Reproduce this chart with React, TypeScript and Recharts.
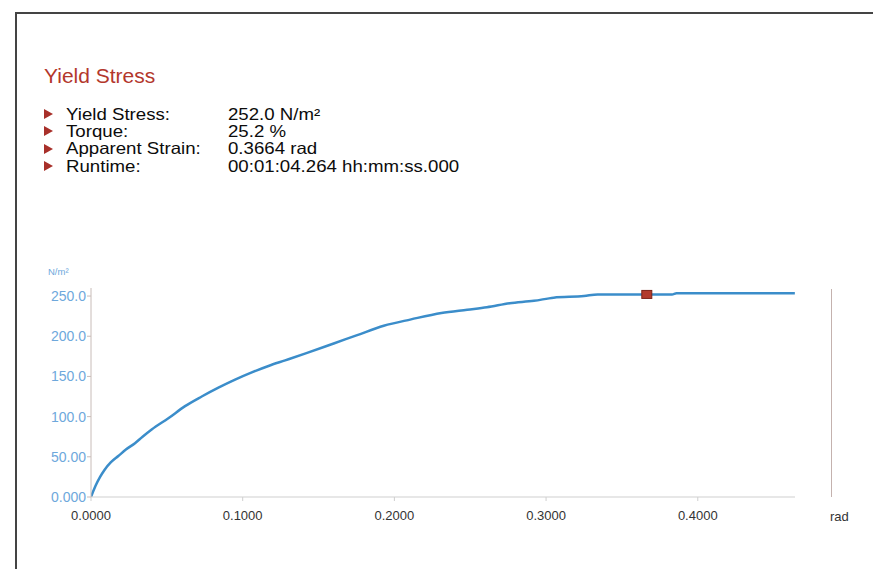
import React from "react"
import { ComposedChart, Line, Scatter, XAxis, YAxis } from "recharts"

// strain (rad) vs stress (N/m²)
const strain = [0, 0.003, 0.006, 0.009, 0.013, 0.018, 0.023, 0.029, 0.034, 0.040, 0.051, 0.062, 0.073, 0.084, 0.095, 0.106, 0.117, 0.128, 0.142, 0.160, 0.175, 0.193, 0.211, 0.231, 0.248, 0.261, 0.276, 0.292, 0.305, 0.325, 0.334, 0.350, 0.366, 0.383, 0.386, 0.420, 0.440, 0.464]
const stress = [0, 14, 25, 34, 43, 51, 59, 67, 75, 84, 98, 113, 125, 136, 146, 155, 163, 170, 179, 191, 201, 213, 221, 229, 233, 236, 241, 244, 248, 250, 252, 252, 252, 252, 253.5, 253.5, 253.5, 253.5]

const yieldPoint = [{ strain: 0.3664, stress: 252.0 }]

const xTicks = [0, 0.1, 0.2, 0.3, 0.4]
const yTicks = [0, 50, 100, 150, 200, 250]
const yTickLabels = ["0.000", "50.00", "100.0", "150.0", "200.0", "250.0"]

const infoLabels = ["Yield Stress:", "Torque:", "Apparent Strain:", "Runtime:"]
const infoValues = ["252.0 N/m²", "25.2 %", "0.3664 rad", "00:01:04.264 hh:mm:ss.000"]

const curve = strain.map((s, i) => ({ strain: s, stress: stress[i] }))

const FONT = '"Liberation Sans", Arial, sans-serif'

function YieldMarker(props: any) {
    const { cx, cy } = props
    return <rect x={cx - 5} y={cy - 4} width={10} height={8} fill="#b23a2c" stroke="#7c2217" strokeWidth={1} />
}

function Arrow() {
    return (
        <svg width={9} height={10} style={{ display: "block" }}>
            <polygon points="0,0 9,5 0,10" fill="#a8302a" />
        </svg>
    )
}

const rowText: React.CSSProperties = {
    position: "absolute",
    top: 0,
    fontSize: 16.5,
    lineHeight: "17px",
    color: "#0c0c0c",
    whiteSpace: "nowrap",
    transform: "scaleX(1.13)",
    transformOrigin: "left",
}

export default function App() {
    return (
        <div style={{ position: "absolute", left: 0, top: 0, width: 873, height: 569, background: "#fff", overflow: "hidden", fontFamily: FONT }}>
            {/* frame */}
            <div style={{ position: "absolute", left: 15, top: 12, width: 900, height: 600, borderLeft: "2px solid #444", borderTop: "2px solid #444" }} />

            <div style={{ position: "absolute", left: 44, top: 63.7, fontSize: 21, lineHeight: "24px", color: "#b3372c" }}>Yield Stress</div>

            {infoLabels.map((label, i) => (
                <div key={label} style={{ position: "absolute", left: 0, top: 106 + i * 17.2, height: 17, width: 600 }}>
                    <div style={{ position: "absolute", left: 44, top: 3.3 }}><Arrow /></div>
                    <span style={{ ...rowText, left: 66 }}>{label}</span>
                    <span style={{ ...rowText, left: 228 }}>{infoValues[i]}</span>
                </div>
            ))}

            <div style={{ position: "absolute", left: 48, top: 265.5, fontSize: 9.5, lineHeight: "11px", color: "#6ea8dc" }}>N/m²</div>

            <div style={{ position: "absolute", left: 0, top: 0 }}>
                <ComposedChart width={873} height={569} margin={{ top: 288, right: 78, bottom: 42, left: 31 }}>
                    <XAxis
                        type="number"
                        dataKey="strain"
                        domain={[0, 0.4641]}
                        ticks={xTicks}
                        tickFormatter={(v: number) => v.toFixed(4)}
                        stroke="#cfcfcf"
                        tickSize={4}
                        tickMargin={10}
                        height={30}
                        tick={{ fill: "#333", fontSize: 13, fontFamily: FONT }}
                        allowDataOverflow
                    />
                    <YAxis
                        type="number"
                        dataKey="stress"
                        domain={[0, 260]}
                        ticks={yTicks}
                        tickFormatter={(v: number) => yTickLabels[yTicks.indexOf(v)]}
                        stroke="#c8bcb8"
                        tickSize={4}
                        tickMargin={1}
                        width={60}
                        tick={{ fill: "#6ea8dc", fontSize: 14, fontFamily: FONT }}
                        allowDataOverflow
                    />
                    <Line data={curve} dataKey="stress" type="monotone" stroke="#3b8dca" strokeWidth={2.5} dot={false} isAnimationActive={false} />
                    <Scatter data={yieldPoint} dataKey="stress" shape={<YieldMarker />} isAnimationActive={false} />
                </ComposedChart>
            </div>

            {/* right-hand boundary line and x unit */}
            <div style={{ position: "absolute", left: 831, top: 289, width: 1, height: 208, background: "#c4b2ae" }} />
            <div style={{ position: "absolute", left: 830, top: 508.6, fontSize: 13, lineHeight: "15px", color: "#333" }}>rad</div>
        </div>
    )
}
